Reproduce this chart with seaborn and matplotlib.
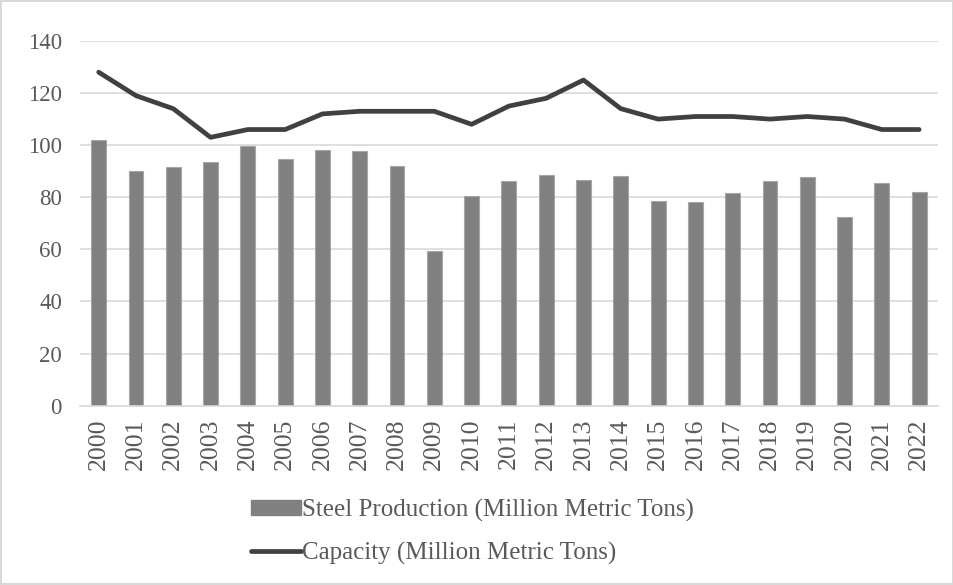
import numpy as np
import pandas as pd
import seaborn as sns
import matplotlib.pyplot as plt
from matplotlib.patches import Patch
from matplotlib.lines import Line2D

# --- data ---
years = [str(y) for y in range(2000, 2023)]
production = [102, 90, 91.5, 93.5, 99.6, 94.7, 98.2, 97.9, 91.9, 59.3, 80.4,
              86.3, 88.4, 86.8, 88.1, 78.7, 78.3, 81.5, 86.4, 87.7, 72.6, 85.6, 81.9]
capacity = [128, 119, 114, 103, 106, 106, 112, 113, 113, 113, 108,
            115, 118, 125, 114, 110, 111, 111, 110, 111, 110, 106, 106]

prod_label = "Steel Production (Million Metric Tons)"
cap_label = "Capacity (Million Metric Tons)"

df = pd.DataFrame({"year": years, "production": production,
                   "capacity": capacity, "pos": np.arange(len(years))})

sns.set_theme(style="white")
plt.rcParams['font.family'] = ['Liberation Serif', 'DejaVu Serif']

fig = plt.figure(figsize=(9.54, 5.85), dpi=100)
fig.patch.set_edgecolor('#d9d9d9')
fig.patch.set_linewidth(1.5)
ax = fig.add_axes([0.0839, 0.3065, 0.8991, 0.6235])

bar_col = '#808080'
line_col = '#404040'
grid_col = '#d9d9d9'
text_col = '#595959'

sns.barplot(data=df, x="year", y="production", color=bar_col, width=0.4,
            edgecolor='#a6a6a6', linewidth=0.8, saturation=1, ax=ax, zorder=2)
sns.lineplot(data=df, x="pos", y="capacity", color=line_col, linewidth=3.4,
             ax=ax, zorder=3, solid_capstyle='round')

ax.set_ylim(0, 140)
ax.set_xlim(-0.5, len(years) - 0.5)
ax.set_yticks(range(0, 141, 20))
ax.set_xticks(range(len(years)))
ax.set_xticklabels(years, rotation=90)
ax.tick_params(axis='y', length=0, labelsize=16.5, labelcolor=text_col, pad=13)
ax.tick_params(axis='x', length=0, labelsize=18.5, labelcolor=text_col, pad=9)
ax.grid(axis='y', color=grid_col, linewidth=1.2, zorder=0)
ax.set_axisbelow(True)
for side in ['top', 'right', 'left']:
    ax.spines[side].set_visible(False)
ax.spines['bottom'].set_color(grid_col)
ax.spines['bottom'].set_linewidth(1.2)
ax.set_xlabel("")
ax.set_ylabel("")

handles = [Patch(facecolor=bar_col, edgecolor=bar_col),
           Line2D([0], [0], color=line_col, linewidth=3.4, solid_capstyle='round')]
fig.legend(handles, [prod_label, cap_label], loc='center',
           bbox_to_anchor=(0.495, 0.0914), frameon=False, fontsize=18,
           labelcolor=text_col, handlelength=2.0, handleheight=0.55,
           handletextpad=0.05, labelspacing=0.8)

fig.savefig("out.png", dpi=100)
